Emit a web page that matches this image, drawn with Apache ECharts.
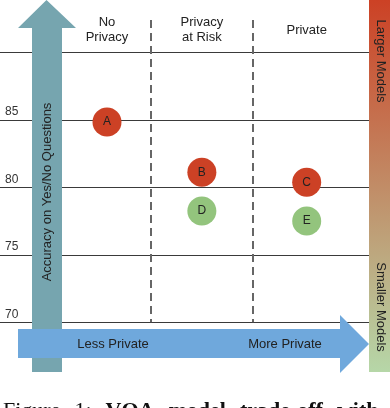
<!DOCTYPE html>
<html>
<head>
<meta charset="utf-8">
<script src="https://cdn.jsdelivr.net/npm/echarts@6/dist/echarts.min.js"></script>
<style>html,body{margin:0;padding:0;background:#fff}#c{width:390px;height:408px}</style>
</head>
<body>
<div id="c"></div>
<script>
// ---- data ----
const headers = ['No\nPrivacy', 'Privacy\nat Risk', 'Private'];
const headerX = [1, 1.95, 3];
const dividerX = [1.44, 2.46];
const redModels = [['A', 1, 84.84], ['B', 1.95, 81.11], ['C', 3, 80.37]];
const greenModels = [['D', 1.95, 78.24], ['E', 3, 77.5]];
const gridValues = [70, 75, 80, 85, 90];
const yTickLabels = [70, 75, 80, 85];
const yMin = 70, yMax = 92.39;
const captionWords = [['Figure', false], ['1:', false], ['VQA', true], ['model', true], ['trade-off', true], ['with', true]];

const chart = echarts.init(document.getElementById('c'), null, {renderer: 'canvas'});
const FONT = 'Liberation Sans, Arial, sans-serif';
const SERIF = 'Liberation Serif, Times New Roman, serif';
const TXT = '#222';

function pts(arr) { return arr.map(d => ({name: d[0], value: [d[1], d[2]]})); }

// caption words laid out with justified-looking spacing
const capGraphics = [];
(function () {
  const cv = document.createElement('canvas').getContext('2d');
  let x = 3;
  captionWords.forEach(w => {
    const font = (w[1] ? 'bold ' : '') + '22px ' + SERIF;
    cv.font = font;
    capGraphics.push({type: 'text', z: 14, x: x, y: 400,
      style: {text: w[0], font: font, fill: '#111', verticalAlign: 'top'}});
    x += cv.measureText(w[0]).width + 14;
  });
})();

chart.setOption({
  animation: false,
  backgroundColor: '#fff',
  grid: {left: 0, right: 21, top: 20, bottom: 85.7},
  xAxis: {
    type: 'value', position: 'top', min: -0.0716, max: 3.624,
    axisLine: {show: false}, axisTick: {show: false}, splitLine: {show: false},
    axisLabel: {
      inside: true, margin: 10, customValues: headerX,
      formatter: v => { const i = headerX.findIndex(x => Math.abs(x - v) < 1e-6); return i >= 0 ? headers[i] : ''; },
      verticalAlign: 'middle', align: 'center', fontSize: 13, lineHeight: 15, color: TXT, fontFamily: FONT
    }
  },
  yAxis: {
    type: 'value', min: yMin, max: yMax, interval: 5,
    axisLine: {show: false}, axisTick: {show: false}, splitLine: {show: false},
    axisLabel: {
      inside: true, margin: 5, showMinLabel: true, showMaxLabel: false,
      formatter: v => yTickLabels.indexOf(v) >= 0 ? String(v) : '',
      verticalAlign: 'bottom', align: 'left', padding: [0, 0, 2, 0],
      fontSize: 12, color: '#333', fontFamily: FONT
    }
  },
  series: [
    {
      type: 'scatter', z: 5, symbolSize: 29,
      itemStyle: {color: '#cc4125', opacity: 1},
      label: {show: true, position: 'inside', formatter: p => p.name, color: TXT, fontSize: 12, fontFamily: FONT},
      data: pts(redModels),
      markLine: {
        silent: true, symbol: ['none', 'none'], label: {show: false}, animation: false,
        data: gridValues.map(v => ({yAxis: v, lineStyle: {color: '#3a3a3a', width: 1.2, type: 'solid'}}))
          .concat(dividerX.map(x => [
            {coord: [x, yMax], lineStyle: {color: '#666', width: 2, type: [8, 5]}},
            {coord: [x, yMin]}
          ]))
      }
    },
    {
      type: 'scatter', z: 5, symbolSize: 29,
      itemStyle: {color: '#93c47d', opacity: 1},
      label: {show: true, position: 'inside', formatter: p => p.name, color: TXT, fontSize: 12, fontFamily: FONT},
      data: pts(greenModels)
    }
  ],
  graphic: [
    // gradient bar
    {type: 'rect', z: 10, shape: {x: 369, y: 0, width: 21, height: 372},
      style: {fill: new echarts.graphic.LinearGradient(0, 0, 0, 1, [{offset: 0, color: '#cc4125'}, {offset: 1, color: '#b6d7a8'}])}},
    {type: 'text', z: 11, x: 381, y: 61, rotation: -Math.PI / 2,
      style: {text: 'Larger Models', font: '13px ' + FONT, fill: TXT, align: 'center', verticalAlign: 'middle'}},
    {type: 'text', z: 11, x: 381, y: 307, rotation: -Math.PI / 2,
      style: {text: 'Smaller Models', font: '13px ' + FONT, fill: TXT, align: 'center', verticalAlign: 'middle'}},
    // vertical teal arrow
    {type: 'polygon', z: 10, shape: {points: [[46.5, 0], [76, 28], [62, 28], [62, 372], [32, 372], [32, 28], [18, 28]]},
      style: {fill: '#76a5af'}},
    {type: 'text', z: 12, x: 47, y: 192, rotation: Math.PI / 2,
      style: {text: 'Accuracy on Yes/No Questions', font: '13px ' + FONT, fill: TXT, align: 'center', verticalAlign: 'middle'}},
    // horizontal blue arrow
    {type: 'polygon', z: 13, shape: {points: [[18, 329], [340, 329], [340, 315], [369, 344], [340, 373], [340, 358], [18, 358]]},
      style: {fill: '#6fa8dc'}},
    {type: 'text', z: 14, x: 113, y: 344,
      style: {text: 'Less Private', font: '13px ' + FONT, fill: TXT, align: 'center', verticalAlign: 'middle'}},
    {type: 'text', z: 14, x: 285, y: 344,
      style: {text: 'More Private', font: '13px ' + FONT, fill: TXT, align: 'center', verticalAlign: 'middle'}}
  ].concat(capGraphics)
});
</script>
</body>
</html>
